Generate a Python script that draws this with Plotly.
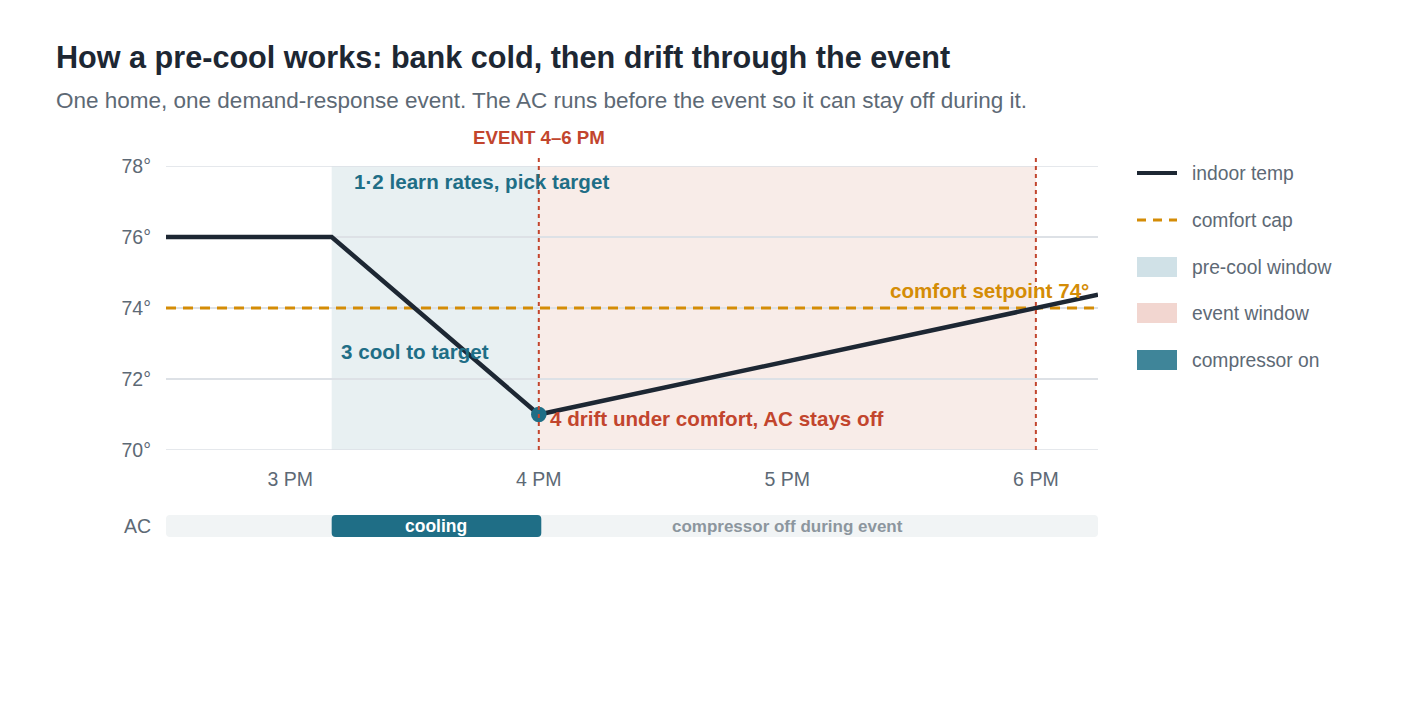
import plotly.graph_objects as go

# ---------------- data ----------------
hours = [14.5, 15 + 10/60, 16.0, 18.25]          # clock hours (decimal)
indoor_temp = [76, 76, 71, 74.375]                # °F
comfort_hours = [14.5, 18.25]
comfort_cap = [74, 74]
precool_window = [15 + 10/60, 16.0]
event_window = [16.0, 18.0]
cooling_span = [15 + 10/60, 16.01]
x_range = [14.5, 18.25]
y_range = [70, 78]
x_tickvals = [15, 16, 17, 18]
x_ticktext = ["3 PM", "4 PM", "5 PM", "6 PM"]
y_tickvals = [70, 72, 74, 76, 78]
y_ticktext = ["70°", "72°", "74°", "76°", "78°"]
legend_names = ["indoor temp", "comfort cap", "pre-cool window", "event window", "compressor on"]

# ---------------- style ----------------
FONT = "Liberation Sans, Arial, Helvetica, sans-serif"
INK = "#1d2733"
GREY = "#5d6975"
TEAL = "#1f6e86"
RED = "#c2452d"
GOLD = "#d48c06"
GRID = "#dde1e6"
W, H = 1404, 720
OFF = 8  # page offset of the figure inside the screenshot
ML, MT = 166 - OFF, 166 - OFF
MR = W - (1098 - OFF)
MB = H - (537 - OFF)
PW, PH = W - ML - MR, H - MT - MB

def px(xp):
    return (xp - OFF - ML) / PW

def py(yp):
    return (H - MB - (yp - OFF)) / PH

main_bottom = py(450)
ac_top = py(515)

fig = go.Figure()

fig.add_trace(go.Scatter(x=comfort_hours, y=comfort_cap, mode="lines",
                         line=dict(color=GOLD, width=3, dash="10px,7px"),
                         showlegend=False, hoverinfo="skip"))
fig.add_trace(go.Scatter(x=hours, y=indoor_temp, mode="lines",
                         line=dict(color=INK, width=4.5),
                         showlegend=False))
fig.add_trace(go.Scatter(x=[hours[2]], y=[indoor_temp[2]], mode="markers",
                         marker=dict(color=TEAL, size=15.5),
                         showlegend=False))

# AC strip
fig.add_trace(go.Bar(y=["AC"], base=[x_range[0]], x=[x_range[1] - x_range[0]],
                     orientation="h", xaxis="x2", yaxis="y2", width=1,
                     marker=dict(color="#f1f4f5", cornerradius=4, line=dict(width=0)),
                     showlegend=False, hoverinfo="skip"))
fig.add_trace(go.Bar(y=["AC"], base=[event_window[0]], x=[event_window[1] - event_window[0]],
                     orientation="h", xaxis="x2", yaxis="y2", width=1,
                     marker=dict(color="rgba(0,0,0,0)", line=dict(width=0)),
                     text=["compressor off during event"], textposition="inside",
                     insidetextanchor="middle", constraintext="none",
                     textfont=dict(family=FONT, size=17, color="#8c969e", weight="bold"),
                     showlegend=False, hoverinfo="skip"))
fig.add_trace(go.Bar(y=["AC"], base=[cooling_span[0]], x=[cooling_span[1] - cooling_span[0]],
                     orientation="h", xaxis="x2", yaxis="y2", width=1,
                     marker=dict(color=TEAL, cornerradius=4, line=dict(width=0)),
                     showlegend=False, hoverinfo="skip"))

shapes = [
    dict(type="rect", xref="x", yref="y domain", x0=precool_window[0], x1=precool_window[1],
         y0=0, y1=1, fillcolor="#e8f0f2", line=dict(width=0), layer="below"),
    dict(type="rect", xref="x", yref="y domain", x0=event_window[0], x1=event_window[1],
         y0=0, y1=1, fillcolor="#f8ece8", line=dict(width=0), layer="below"),
]
for yv in (y_range[0], y_range[1]):
    shapes.append(dict(type="line", xref="x domain", yref="y", x0=0, x1=1, y0=yv, y1=yv,
                       line=dict(color=GRID, width=1.5), layer="below"))
for xv in event_window:
    shapes.append(dict(type="line", xref="x", yref="y domain", x0=xv, x1=xv, y0=0, y1=1.04,
                       line=dict(color=RED, width=2, dash="4px,4px"), layer="above"))

# manual legend
leg_x0, leg_x1, leg_tx = 1137, 1177, 1191
leg_y = [173, 220, 267, 313, 360]
shapes.append(dict(type="line", xref="paper", yref="paper", x0=px(leg_x0), x1=px(leg_x1),
                   y0=py(leg_y[0]), y1=py(leg_y[0]), line=dict(color=INK, width=4)))
shapes.append(dict(type="line", xref="paper", yref="paper", x0=px(leg_x0), x1=px(leg_x1),
                   y0=py(leg_y[1]), y1=py(leg_y[1]), line=dict(color=GOLD, width=3, dash="9px,7px")))
for yc, col in zip(leg_y[2:], ["#d0e1e7", "#f2d6d0", "#3f8599"]):
    shapes.append(dict(type="rect", xref="paper", yref="paper", x0=px(leg_x0), x1=px(leg_x1),
                       y0=py(yc + 10), y1=py(yc - 10), fillcolor=col, line=dict(width=0)))

annotations = []
for name, yc in zip(legend_names, leg_y):
    annotations.append(dict(xref="paper", yref="paper", x=px(leg_tx - 1), y=py(yc), text=name,
                            showarrow=False, xanchor="left", yanchor="middle",
                            font=dict(family=FONT, size=19.3, color=GREY)))

annotations += [
    dict(xref="x2", yref="y2", x=(cooling_span[0] + cooling_span[1]) / 2, y="AC",
         xanchor="center", yanchor="middle", text="<b>cooling</b>", showarrow=False,
         font=dict(family=FONT, size=17.5, color="white")),
    dict(xref="paper", yref="paper", x=px(54), y=py(57), xanchor="left", yanchor="middle",
         text="<b>How a pre-cool works: bank cold, then drift through the event</b>",
         showarrow=False, font=dict(family=FONT, size=30.6, color=INK)),
    dict(xref="paper", yref="paper", x=px(54), y=py(101), xanchor="left", yanchor="middle",
         text="One home, one demand-response event. The AC runs before the event so it can stay off during it.",
         showarrow=False, font=dict(family=FONT, size=22.5, color=GREY)),
    dict(xref="x", yref="paper", x=event_window[0], y=py(137), xanchor="center", yanchor="middle",
         text="<b>EVENT 4–6 PM</b>", showarrow=False, font=dict(family=FONT, size=18.7, color=RED)),
    dict(xref="paper", yref="paper", x=px(352), y=py(181), xanchor="left", yanchor="middle",
         text="<b>1·2 learn rates, pick target</b>", showarrow=False,
         font=dict(family=FONT, size=20.6, color=TEAL)),
    dict(xref="paper", yref="paper", x=px(339), y=py(351), xanchor="left", yanchor="middle",
         text="<b>3 cool to target</b>", showarrow=False,
         font=dict(family=FONT, size=20.6, color=TEAL)),
    dict(xref="paper", yref="paper", x=px(548), y=py(418), xanchor="left", yanchor="middle",
         text="<b>4 drift under comfort, AC stays off</b>", showarrow=False,
         font=dict(family=FONT, size=20.6, color=RED)),
    dict(xref="paper", yref="paper", x=px(1091), y=py(290), xanchor="right", yanchor="middle",
         text="<b>comfort setpoint 74°</b>", showarrow=False,
         font=dict(family=FONT, size=20.6, color=GOLD)),
]

fig.update_layout(
    width=W, height=H,
    margin=dict(l=ML, r=MR, t=MT, b=MB, pad=0),
    paper_bgcolor="white", plot_bgcolor="white",
    font=dict(family=FONT, color=GREY, size=19.5),
    showlegend=False,
    barmode="overlay",
    xaxis=dict(domain=[0, 1], anchor="y", range=x_range, tickvals=x_tickvals, ticktext=x_ticktext,
               showgrid=False, zeroline=False, showline=False, ticks="", ticklabelstandoff=15,
               tickfont=dict(size=19.5, color=GREY), fixedrange=True),
    yaxis=dict(domain=[main_bottom, 1], anchor="x", range=y_range, tickvals=y_tickvals,
               ticktext=y_ticktext, showgrid=True, gridcolor=GRID, gridwidth=1.5,
               zeroline=False, showline=False, ticks="", ticklabelstandoff=14,
               tickfont=dict(size=19.5, color=GREY)),
    xaxis2=dict(domain=[0, 1], anchor="y2", range=x_range, showticklabels=False,
                showgrid=False, zeroline=False, showline=False, ticks=""),
    yaxis2=dict(domain=[0, ac_top], anchor="x2", range=[-0.5, 0.5], showgrid=False,
                zeroline=False, showline=False, ticks="", ticklabelstandoff=14,
                tickfont=dict(size=19.5, color=GREY)),
    shapes=shapes,
    annotations=annotations,
)

fig.write_html("out.html")
